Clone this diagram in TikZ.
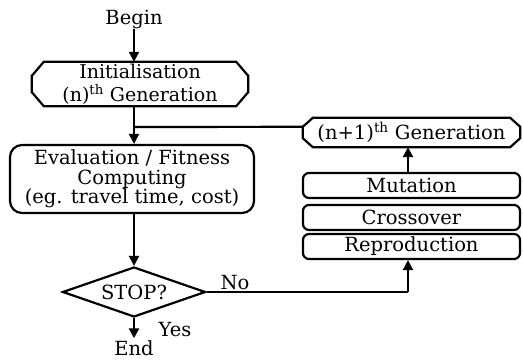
\documentclass[tikz,border=0pt]{standalone}
\usepackage{fontspec}
\setmainfont{DejaVu Serif}
\usetikzlibrary{shapes.geometric,arrows.meta}
\begin{document}
\begin{tikzpicture}[x=1pt,y=-1pt,
  every node/.style={font=\fontsize{19.5}{19.5}\selectfont, inner sep=0pt, align=center},
  ln/.style={line width=2.2pt},
  arr/.style={ln, -{Triangle[width=10pt,length=10pt]}},
  rbox/.style={draw, line width=2.2pt, rounded corners=6pt, minimum width=217pt, minimum height=25pt},
  stopd/.style={draw, line width=2.2pt, diamond, aspect=2.86, minimum width=143pt, minimum height=50pt}
]
\useasboundingbox (0,0) rectangle (523,361);

% nodes
\node (begin) at (134,19) {Begin};
\node[minimum width=216pt, minimum height=44pt, font=\fontsize{19}{23}\selectfont] (init) at (140,84) {Initialisation\\(n)\textsuperscript{th} Generation};
\node[draw, line width=2.2pt, rounded corners=12pt, minimum width=244pt, minimum height=68pt] (eval) at (132,179) {Evaluation / Fitness\\Computing\\(eg. travel time, cost)};
\node[stopd] (stop) at (134,292) {STOP?};
\node (end) at (134,348) {End};
\node (yes) at (175,330) {Yes};
\node (no) at (235,283) {No};

\node[minimum width=217pt, minimum height=29pt] (gen) at (411.5,132.5) {(n+1)\textsuperscript{th} Generation};
\node[rbox] (mut) at (411.5,185.5) {Mutation};
\node[rbox] (cross) at (411.5,217.5) {Crossover};
\node[rbox] (rep) at (411.5,246.5) {Reproduction};

% chamfered boxes
\draw[ln, line join=miter]
  ([xshift=12pt]init.north west) -- ([xshift=-12pt]init.north east)
  -- ([yshift=-14pt]init.north east) -- ([yshift=14pt]init.south east)
  -- ([xshift=-12pt]init.south east) -- ([xshift=12pt]init.south west)
  -- ([yshift=14pt]init.south west) -- ([yshift=-14pt]init.north west) -- cycle;
\draw[ln, line join=miter]
  ([xshift=10pt]gen.north west) -- ([xshift=-10pt]gen.north east)
  -- ([yshift=-9pt]gen.north east) -- ([yshift=9pt]gen.south east)
  -- ([xshift=-10pt]gen.south east) -- ([xshift=10pt]gen.south west)
  -- ([yshift=9pt]gen.south west) -- ([yshift=-9pt]gen.north west) -- cycle;

% connectors
\draw[arr] (begin.south) -- (begin |- init.north);
\coordinate (j) at (134,127);
\draw[arr] (begin |- init.south) -- (begin |- eval.north);
\draw[ln] ([yshift=-9pt]gen.north west) -- (j);
\draw[arr] (begin |- eval.south) -- (stop.north);
\draw[arr] (stop.south) -- ([yshift=2pt]end.north);
\coordinate (nc) at (408,292);
\draw[ln] (stop.east) -- (nc);
\draw[arr] (nc) -- (nc |- rep.south);
\draw[arr] (nc |- mut.north) -- (nc |- gen.south);
\end{tikzpicture}
\end{document}
